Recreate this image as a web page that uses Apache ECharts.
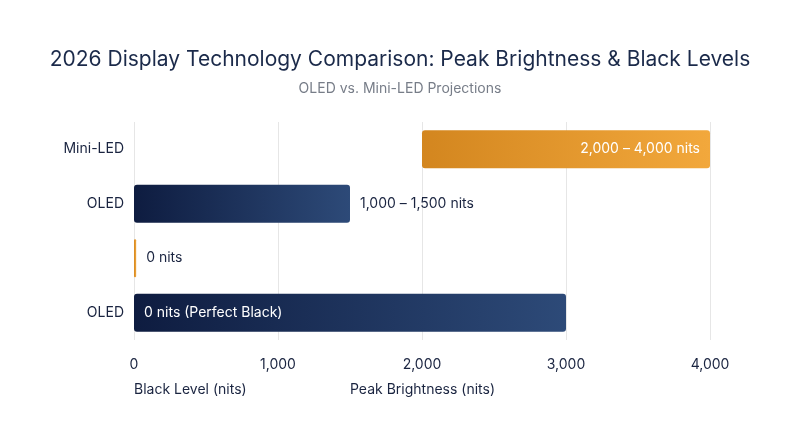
<!DOCTYPE html>
<html><head><meta charset="utf-8">
<script src="https://cdn.jsdelivr.net/npm/echarts@6/dist/echarts.min.js"></script>
<style>html,body{margin:0;padding:0;background:#fff}#c{width:800px;height:447px}</style>
</head><body><div id="c"></div>
<script>
const categories = ['OLED', '', 'OLED', 'Mini-LED'];
const startValues = [0, 0, 0, 2000];
const endValues = [3000, 15, 1500, 4000];
const barLabels = ['0 nits (Perfect Black)', '0 nits', '1,000 – 1,500 nits', '2,000 – 4,000 nits'];
const barKinds = ['navy', 'orange', 'navy', 'orange'];
const xTicks = [0, 1000, 2000, 3000, 4000];

const grads = {
  navy: new echarts.graphic.LinearGradient(0,0,1,0,[{offset:0,color:'#0e1c40'},{offset:1,color:'#2d4a78'}]),
  orange: new echarts.graphic.LinearGradient(0,0,1,0,[{offset:0,color:'#d3861f'},{offset:1,color:'#f2a83c'}])
};
const labelPos = ['insideLeft','right','right','insideRight'];
const labelColor = ['#ffffff','#1a2440','#1a2440','#ffffff'];

const chart = echarts.init(document.getElementById('c'));
chart.setOption({
  backgroundColor:'#fff',
  title:{text:'2026 Display Technology Comparison: Peak Brightness & Black Levels',
    subtext:'OLED vs. Mini-LED Projections', left:'center', top:44, itemGap:12,
    textStyle:{fontFamily:'Inter',fontSize:21,fontWeight:'normal',color:'#1b2a4a'},
    subtextStyle:{fontFamily:'Inter',fontSize:14,color:'#777d88'}},
  grid:{left:134,right:90,top:122,bottom:107},
  xAxis:{type:'value',min:0,max:4000,interval:1000,
    axisLine:{show:false},axisTick:{show:false},
    splitLine:{lineStyle:{color:'#e6e6e6'}},
    axisLabel:{fontFamily:'Inter',fontSize:14,color:'#1a2440',margin:18,
      formatter:v=>v.toLocaleString('en-US')}},
  yAxis:{type:'category',data:categories,axisLine:{show:false},axisTick:{show:false},
    axisLabel:{fontFamily:'Inter',fontSize:14,color:'#1a2440',margin:10}},
  series:[
    {type:'bar',stack:'s',silent:true,itemStyle:{color:'transparent'},barWidth:38,data:startValues},
    {type:'bar',stack:'s',barWidth:38,
     data:endValues.map((v,i)=>({value:v-startValues[i],
       itemStyle:{color:grads[barKinds[i]],borderRadius:3},
       label:{show:true,position:labelPos[i],distance:10,formatter:barLabels[i],
         color:labelColor[i],fontFamily:'Inter',fontSize:14}}))}
  ],
  graphic:[
    {type:'text',left:134,top:383,style:{text:'Black Level (nits)',font:'14px Inter',fill:'#1a2440'}},
    {type:'text',left:350,top:383,style:{text:'Peak Brightness (nits)',font:'14px Inter',fill:'#1a2440'}}
  ]
});
</script></body></html>
